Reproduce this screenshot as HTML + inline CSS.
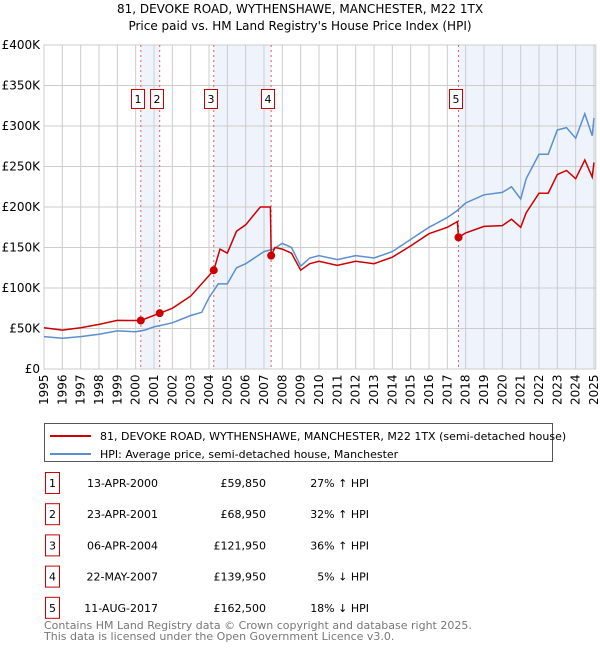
<!DOCTYPE html>
<html><head><meta charset="utf-8"><style>
body{margin:0;background:#fff;font-family:"Liberation Sans","DejaVu Sans",sans-serif;}
svg text{font-family:"DejaVu Sans","Liberation Sans",sans-serif;}
</style></head><body>
<svg id="c" width="600" height="650" xmlns="http://www.w3.org/2000/svg">
<text x="300" y="13" font-size="12" text-anchor="middle" fill="#000">81, DEVOKE ROAD, WYTHENSHAWE, MANCHESTER, M22 1TX</text>
<text x="300" y="30" font-size="12" text-anchor="middle" fill="#000">Price paid vs. HM Land Registry's House Price Index (HPI)</text>
<g id="g"></g>
<rect x="44.5" y="423.5" width="508" height="38" fill="#fff" stroke="#555"/>
<line x1="50" y1="436" x2="91" y2="436" stroke="#cc0000" stroke-width="2"/>
<text x="100" y="440" font-size="11">81, DEVOKE ROAD, WYTHENSHAWE, MANCHESTER, M22 1TX (semi-detached house)</text>
<line x1="50" y1="454" x2="91" y2="454" stroke="#5b8fd0" stroke-width="2"/>
<text x="100" y="458" font-size="11">HPI: Average price, semi-detached house, Manchester</text>
<g id="tbl" font-size="11"></g>
<text x="44" y="629" font-size="11" fill="#777">Contains HM Land Registry data © Crown copyright and database right 2025.</text>
<text x="44" y="640" font-size="11" fill="#777">This data is licensed under the Open Government Licence v3.0.</text>
</svg>
<script>
const hpiYears=[1995,1996,1997,1998,1999,2000,2000.5,2001,2002,2003,2003.6,2004,2004.5,2005,2005.5,2006,2007,2007.5,2008,2008.5,2009,2009.5,2010,2011,2012,2013,2014,2015,2016,2017,2017.5,2018,2019,2020,2020.5,2021,2021.3,2022,2022.5,2023,2023.5,2024,2024.5,2024.9,2025.0];
const hpiValues=[40,38,40,43,47,46,48,52,57,66,70,88,105,105,125,130,145,148,155,150,127,137,140,135,140,137,145,160,175,187,195,205,215,218,225,210,235,265,265,295,298,285,315,288,310];
const propYears=[1995,1996,1997,1998,1999,2000.28,2001.31,2002,2003,2004.26,2004.6,2005,2005.5,2006,2006.8,2007.35,2007.39,2007.6,2008,2008.5,2009,2009.5,2010,2011,2012,2013,2014,2015,2016,2017,2017.55,2017.61,2018,2019,2020,2020.5,2021,2021.3,2022,2022.5,2023,2023.5,2024,2024.5,2024.9,2025.0];
const propValues=[51,48,51,55,60,59.85,68.95,75,90,121.95,148,143,170,178,200,200,139.95,150,148,143,122,130,133,128,133,130,138,152,167,175,182,162.5,168,176,177,185,175,193,217,217,240,245,235,258,237,255];
const saleYears=[2000.28,2001.31,2004.26,2007.39,2017.61];
const saleValues=[59.85,68.95,121.95,139.95,162.5];
const saleLabels=["1","2","3","4","5"];
const saleDates=["13-APR-2000","23-APR-2001","06-APR-2004","22-MAY-2007","11-AUG-2017"];
const salePrices=["£59,850","£68,950","£121,950","£139,950","£162,500"];
const saleHpi=["27% ↑ HPI","32% ↑ HPI","36% ↑ HPI","5% ↓ HPI","18% ↓ HPI"];
const yTicks=[0,50,100,150,200,250,300,350,400];
const xTicks=[1995,1996,1997,1998,1999,2000,2001,2002,2003,2004,2005,2006,2007,2008,2009,2010,2011,2012,2013,2014,2015,2016,2017,2018,2019,2020,2021,2022,2023,2024,2025];
const X0=44,X1=594,Y0=369,Y1=45,x1=2025.1;
const sx=v=>X0+(v-1995)/(2025-1995)*(X1-X0);
const sy=v=>Y0-v/400*(Y0-Y1);
const NS="http://www.w3.org/2000/svg";
const g=document.getElementById('g');
function mk(t,a,p){const e=document.createElementNS(NS,t);for(const k in a)e.setAttribute(k,a[k]);(p||g).appendChild(e);return e;}
const R=sx(x1);
[[0,1],[2,3]].forEach(p=>{const r=mk('rect',{x:sx(saleYears[p[0]]),y:Y1,width:sx(saleYears[p[1]])-sx(saleYears[p[0]]),height:Y0-Y1,fill:'#eef3fc'});

});
const r5=mk('rect',{x:sx(saleYears[4]),y:Y1,width:R-sx(saleYears[4]),height:Y0-Y1,fill:'#eef3fc'});


xTicks.forEach(t=>{const l=mk('line',{x1:sx(t),x2:sx(t),y1:Y1,y2:Y0,stroke:'#ccc'});


const tx=mk('text',{x:0,y:0,'font-size':12,transform:`translate(${sx(t)+4},${Y0+36}) rotate(-90)`});tx.textContent=t;

});
yTicks.forEach(t=>{const l=mk('line',{x1:X0,x2:R,y1:sy(t),y2:sy(t),stroke:'#ccc'});


const tx=mk('text',{x:X0-4,y:sy(t)+4,'font-size':12,'text-anchor':'end'});tx.textContent=t===0?'£0':'£'+t+'K';

});
const ax=mk('rect',{x:X0,y:Y1,width:R-X0,height:Y0-Y1,fill:'none',stroke:'#ccc'});


saleYears.forEach(y=>{const l=mk('line',{x1:sx(y),x2:sx(y),y1:Y1,y2:Y0,stroke:'#e06060','stroke-dasharray':'2,3'});

});
const pth=(xs,vs)=>xs.map((x,i)=>(i?'L':'M')+sx(x).toFixed(1)+','+sy(vs[i]).toFixed(1)).join('');
const hl=mk('path',{d:pth(hpiYears,hpiValues),fill:'none',stroke:'#5b8fd0','stroke-width':1.5});


const pl=mk('path',{d:pth(propYears,propValues),fill:'none',stroke:'#cc0000','stroke-width':1.5});


saleYears.forEach((y,i)=>{const c=mk('circle',{cx:sx(y),cy:sy(saleValues[i]),r:4,fill:'#cc0000'});


const cx=Math.round(sx(y))-3;
const b=mk('rect',{x:cx-6.5,y:89.5,width:13,height:19,fill:'#fff',stroke:'#cc0000'});


const t=mk('text',{x:cx,y:103,'font-size':11,'text-anchor':'middle'});t.textContent=saleLabels[i];

});
const tb=document.getElementById('tbl');
saleLabels.forEach((s,i)=>{const y=483+i*31.2;
const b=mk('rect',{x:45.5,y:y-10.5,width:14,height:21,fill:'#fff',stroke:'#cc0000'},tb);


const vals=[[s,52.5,'middle'],[saleDates[i],158,'end'],[salePrices[i],266,'end'],[saleHpi[i],369,'end']];
vals.forEach(v=>{const t=mk('text',{x:v[1],y:y+4,'text-anchor':v[2]},tb);t.textContent=v[0];

});});
</script>
</body></html>
